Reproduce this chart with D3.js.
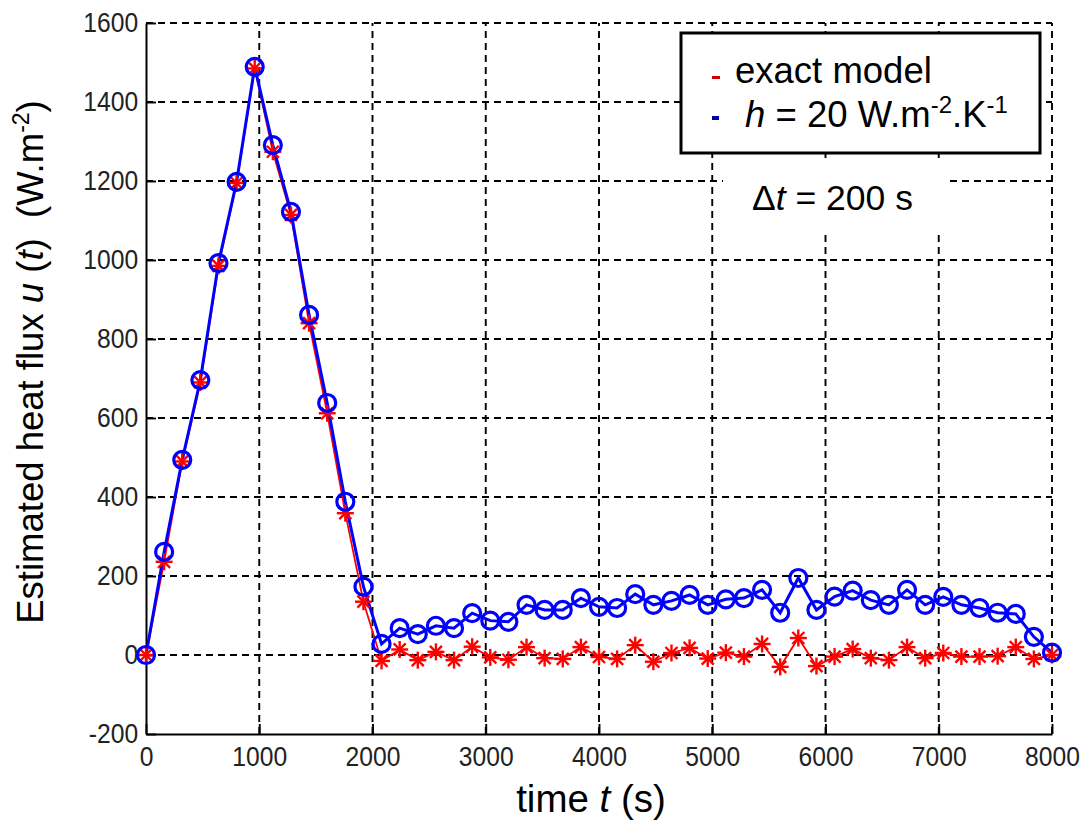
<!DOCTYPE html>
<html>
<head>
<meta charset="utf-8">
<script src="https://cdn.jsdelivr.net/npm/d3@7"></script>
<style>
  html, body { margin: 0; padding: 0; background: #fff; }
  svg { display: block; }
  text { font-family: "Liberation Sans", Arial, sans-serif; white-space: pre; }
</style>
</head>
<body>
<svg id="chart" width="1085" height="827"></svg>
<script>
// ---------- data ----------
const times = [0,160,320,480,640,800,960,1120,1280,1440,1600,1760,1920,2080,2240,2400,2560,2720,2880,3040,3200,3360,3520,3680,3840,4000,4160,4320,4480,4640,4800,4960,5120,5280,5440,5600,5760,5920,6080,6240,6400,6560,6720,6880,7040,7200,7360,7520,7680,7840,8000];
const exactModel = [0,236,490,690,985,1195,1485,1274,1114,840,612,359,135,-15,14,-13,8,-13,21,-6,-12,20,-8,-10,20,-5,-10,25,-17,5,18,-9,6,-4,28,-30,43,-28,-4,15,-8,-13,20,-8,5,-4,-4,-3,20,-10,0];
const h20Model = [0,261,494,696,992,1198,1489,1291,1122,861,638,388,173,28,68,53,74,68,106,87,84,127,114,114,144,122,119,154,127,137,152,127,141,144,165,107,195,114,148,163,139,127,165,127,147,127,119,107,104,46,6];
const xTicks = [0,1000,2000,3000,4000,5000,6000,7000,8000];
const yTicks = [-200,0,200,400,600,800,1000,1200,1400,1600];

// ---------- layout ----------
const svg = d3.select("#chart");
const x = d3.scaleLinear().domain([0, 8000]).range([146, 1052]);
const y = d3.scaleLinear().domain([-200, 1600]).range([734, 23]);

svg.append("rect").attr("width", 1085).attr("height", 827).attr("fill", "#fff");

// grid
const grid = svg.append("g").attr("stroke", "#000").attr("stroke-width", 1.9)
  .attr("stroke-dasharray", "7,5").attr("fill", "none");
grid.selectAll("line.v").data(xTicks.filter(d => d !== 0)).join("line")
  .attr("class", "v")
  .attr("x1", d => x(d)).attr("x2", d => x(d))
  .attr("y1", y(-200)).attr("y2", y(1600));
grid.selectAll("line.h").data(yTicks.filter(d => d !== -200)).join("line")
  .attr("class", "h")
  .attr("x1", x(0)).attr("x2", x(8000))
  .attr("y1", d => y(d)).attr("y2", d => y(d));

// axes
const fmt = d => String(d);
const xAxis = d3.axisBottom(x).tickValues(xTicks).tickFormat(fmt)
  .tickSizeInner(-10).tickSizeOuter(0).tickPadding(12);
const yAxis = d3.axisLeft(y).tickValues(yTicks).tickFormat(fmt)
  .tickSizeInner(-10).tickSizeOuter(0).tickPadding(9);

const gx = svg.append("g").attr("transform", `translate(0,${y(-200)})`).call(xAxis);
const gy = svg.append("g").attr("transform", `translate(${x(0)},0)`).call(yAxis);
[gx, gy].forEach(g => {
  g.select(".domain").attr("stroke", "#000").attr("stroke-width", 2);
  g.selectAll(".tick line").attr("stroke", "#000").attr("stroke-width", 1.9);
  g.selectAll(".tick text").attr("fill", "#222").style("font-size", "28px")
    .style("font-family", '"Liberation Sans", Arial, sans-serif')
    .attr("transform", "scale(0.88,1)");
});
gx.selectAll(".tick text").attr("dy", "0.71em");

// series
const pts = (vals) => times.map((t, i) => [t, vals[i]]);
const line = d3.line().x(d => x(d[0])).y(d => y(d[1]));

const red = "#ff0000", blue = "#0000ff";
// exact model (red, asterisks)
svg.append("path").datum(pts(exactModel)).attr("d", line)
  .attr("fill", "none").attr("stroke", red).attr("stroke-width", 1.8);

// h=20 (blue, circles)
svg.append("path").datum(pts(h20Model)).attr("d", line)
  .attr("fill", "none").attr("stroke", blue).attr("stroke-width", 3);

const star = svg.append("g").attr("stroke", red).attr("stroke-width", 2.4);
const s = 8.5, sd = 6;
pts(exactModel).forEach(([t, v]) => {
  const cx = x(t), cy = y(v);
  star.append("line").attr("x1", cx - s).attr("x2", cx + s).attr("y1", cy).attr("y2", cy);
  star.append("line").attr("x1", cx).attr("x2", cx).attr("y1", cy - s).attr("y2", cy + s);
  star.append("line").attr("x1", cx - sd).attr("x2", cx + sd).attr("y1", cy - sd).attr("y2", cy + sd);
  star.append("line").attr("x1", cx - sd).attr("x2", cx + sd).attr("y1", cy + sd).attr("y2", cy - sd);
});

svg.append("g").selectAll("circle").data(pts(h20Model)).join("circle")
  .attr("cx", d => x(d[0])).attr("cy", d => y(d[1])).attr("r", 8.5)
  .attr("fill", "none").attr("stroke", blue).attr("stroke-width", 3.2);

// legend
const lg = svg.append("g");
lg.append("rect").attr("x", 681).attr("y", 33).attr("width", 359).attr("height", 120)
  .attr("fill", "#fff").attr("stroke", "#000").attr("stroke-width", 3);
lg.append("rect").attr("x", 712).attr("y", 76).attr("width", 8).attr("height", 3).attr("fill", "#d00000");
lg.append("rect").attr("x", 712).attr("y", 116).attr("width", 7).attr("height", 4).attr("fill", "#0000a0");
lg.append("text").attr("x", 735).attr("y", 83).style("font-size", "36.5px").attr("fill", "#000")
  .text("exact model");
const t2 = lg.append("text").attr("x", 745).attr("y", 127).style("font-size", "36.5px").attr("fill", "#000");
t2.append("tspan").style("font-style", "italic").text("h");
t2.append("tspan").text(" = 20 W.m");
t2.append("tspan").attr("dy", -14).style("font-size", "24px").text("-2");
t2.append("tspan").attr("dy", 14).text(".K");
t2.append("tspan").attr("dy", -14).style("font-size", "24px").text("-1");

// delta t label
svg.append("rect").attr("x", 723).attr("y", 161).attr("width", 223).attr("height", 70).attr("fill", "#fff");
const dt = svg.append("text").attr("x", 752).attr("y", 210).style("font-size", "35.5px").attr("fill", "#000");
dt.append("tspan").text("Δ");
dt.append("tspan").style("font-style", "italic").text("t");
dt.append("tspan").text(" = 200 s");

// axis titles
const xt = svg.append("text").attr("x", 591).attr("y", 812).attr("text-anchor", "middle")
  .style("font-size", "38.5px").attr("fill", "#000");
xt.append("tspan").text("time ");
xt.append("tspan").style("font-style", "italic").text("t");
xt.append("tspan").text(" (s)");

const yt = svg.append("text").attr("transform", "translate(43,362) rotate(-90)")
  .attr("text-anchor", "middle").style("font-size", "36.5px").attr("fill", "#000");
yt.append("tspan").text("Estimated heat flux ");
yt.append("tspan").style("font-style", "italic").text("u");
yt.append("tspan").text(" (");
yt.append("tspan").style("font-style", "italic").text("t");
yt.append("tspan").text(")  (W.m");
yt.append("tspan").attr("dy", -14).style("font-size", "23px").text("-2");
yt.append("tspan").attr("dy", 14).text(")");
</script>
</body>
</html>
